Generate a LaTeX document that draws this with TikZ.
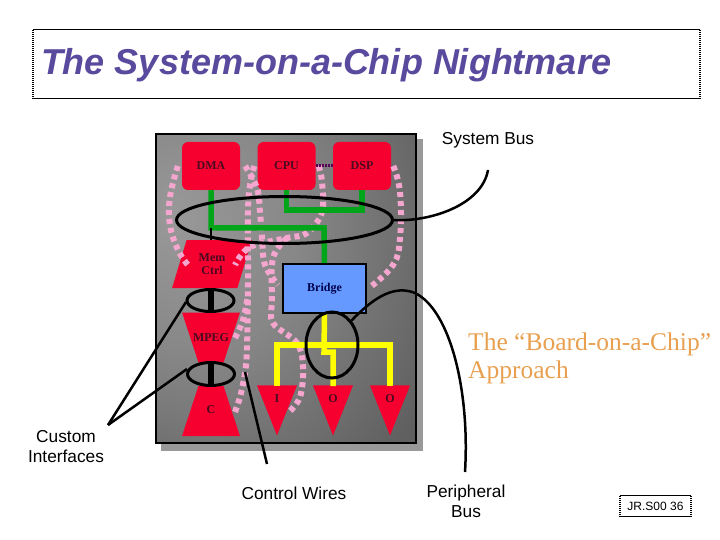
\documentclass[tikz,border=0pt]{standalone}
\usepackage{fontspec}
\setmainfont{Liberation Serif}
\setsansfont{Liberation Sans}
\usepackage{xcolor}
\usetikzlibrary{positioning, calc, shapes.geometric}
\definecolor{chipred}{HTML}{F5002F}
\definecolor{chipblue}{HTML}{6699FF}
\definecolor{chipgreen}{HTML}{00A51A}
\definecolor{chipyellow}{HTML}{FFFF00}
\definecolor{chippink}{HTML}{F4A6CE}
\definecolor{chipink}{HTML}{4A0A20}
\definecolor{titlepurple}{HTML}{5A4A9E}
\definecolor{noteorange}{HTML}{E8A050}
\newcommand{\funnelbody}{\phantom{\rule{25pt}{10pt}}}
\pgfdeclareradialshading{panelglow}{\pgfpoint{-22bp}{12bp}}{
  color(0bp)=(black!40); color(20bp)=(black!47); color(45bp)=(black!62);
  color(70bp)=(black!72); color(100bp)=(black!74)}

\begin{document}
\begin{tikzpicture}[
    x=1pt, y=-1pt,
    block/.style={
      rectangle, fill=chipred, rounded corners=6pt, minimum width=58, minimum height=48,
      inner sep=0pt, align=center, font=\fontsize{12}{13}\selectfont\bfseries, text=chipink
    },
    memblock/.style={
      trapezium, fill=chipred, trapezium left angle=70, trapezium right angle=110,
      trapezium stretches=true, minimum width=80, minimum height=48, inner sep=0pt,
      align=center, font=\fontsize{12}{13}\selectfont\bfseries, text=chipink
    },
    funnel/.style={
      trapezium, fill=chipred, trapezium left angle=31.4, trapezium right angle=31.4,
      trapezium stretches=true, minimum width=58, minimum height=50, inner sep=0pt
    },
    pin/.style={
      isosceles triangle, fill=chipred, shape border rotate=-90, isosceles triangle stretches,
      minimum width=40, minimum height=50, inner sep=0pt, anchor=apex
    },
    pinlabel/.style={font=\fontsize{12}{13}\selectfont\bfseries, text=chipink},
    greenbus/.style={draw=chipgreen, line width=5.5pt},
    yellowbus/.style={draw=chipyellow, line width=5.5pt},
    wire/.style={draw=chippink, line width=6pt, dash pattern=on 5pt off 4pt},
    ring/.style={ellipse, draw=black, line width=3pt, inner sep=0pt},
    leader/.style={draw=black, line width=2.5pt},
    note/.style={font=\sffamily\fontsize{17.3}{20}\selectfont, align=center},
]
  \useasboundingbox (0,0) rectangle (720,540);

  % title and page tag
  \node[minimum width=667, minimum height=68, inner sep=0pt] (titlebox) at (366.5,64) {};
  \node[right=8 of titlebox.west, yshift=-1.5, inner sep=0pt, text=titlepurple,
        font=\sffamily\bfseries\itshape\fontsize{36}{40}\selectfont] (title) {The System-on-a-Chip Nightmare};
  \draw[line width=1pt] (titlebox.north west) -- (titlebox.north east);
  \draw[line width=1pt] (titlebox.south west) -- (titlebox.south east);
  \draw[line width=2pt, dash pattern=on 1pt off 1pt] (titlebox.north west) -- (titlebox.south west);
  \draw[line width=2pt, dash pattern=on 1pt off 1pt] (titlebox.north east) -- (titlebox.south east);

  \node[minimum width=71, minimum height=20, inner sep=0pt,
        font=\sffamily\fontsize{12}{14}\selectfont] (tag) at (655.5,506) {JR.S00 36};
  \draw[line width=1pt] (tag.north west) -- (tag.north east);
  \draw[line width=1pt] (tag.south west) -- (tag.south east);
  \draw[line width=2pt, dash pattern=on 1pt off 1pt] (tag.north west) -- (tag.south west);
  \draw[line width=2pt, dash pattern=on 1pt off 1pt] (tag.north east) -- (tag.south east);

  % chip
  \fill[black!40] (161,139) rectangle (423,451);
  \node[rectangle, draw=black, line width=2.5pt, shading=panelglow, minimum width=260, minimum height=309,
        inner sep=0pt] (chip) at (286,288.5) {};

  \node[block] (dma) at (211,166) {DMA};
  \node[block] (cpu) at (286.5,166) {CPU};
  \node[block] (dsp) at (362,166) {DSP};
  \node[memblock] (mem) at (212,264) {Mem\\Ctrl};
  \node[rectangle, draw=black, line width=2pt, fill=chipblue, minimum width=83, minimum height=49,
        inner sep=0pt, font=\fontsize{12}{13}\selectfont\bfseries, text=blue!30!black] (bridge) at (324.5,288.5) {Bridge};
  \node[funnel, shape border rotate=180] (mpeg) at (211,337.5) {\funnelbody};
  \node[funnel] (ctrl) at (211,411) {\funnelbody};
  \node[pin] (pini) at (277,436) {\phantom{I}};
  \node[pin] (pino) at (333,436) {\phantom{I}};
  \node[pin] (pinp) at (390,436) {\phantom{I}};
  \node[pinlabel] (mpeglabel) at (211,337.5) {MPEG};
  \node[pinlabel] (ctrllabel) at (211,410) {C};
  \node[pinlabel] (pinilabel) at (277,399) {I};
  \node[pinlabel] (pinolabel) at (333,399) {O};
  \node[pinlabel] (pinplabel) at (390,399) {O};

  % control wires
  \draw[wire] plot[smooth, tension=0.7] coordinates {([xshift=-4]dma.west) (170,197) (170,225) (178,250) (188,265)};
  \draw[wire] plot[smooth, tension=0.6] coordinates {([xshift=-3]cpu.west) (250,185) (248,212) (248,283) (247,347) (245,373) (240,397) (235,412)};
  \draw[wire] plot[smooth, tension=0.6] coordinates {([xshift=5]dma.east) (257,188) (260,212) (262,238) (265,265) (278,285)};
  \draw[wire] plot[smooth, tension=0.6] coordinates {([xshift=3]cpu.east) (322,182) (322,212) (307,233) (287,238) (250,247) (235,265)};
  \draw[wire] plot[smooth, tension=0.6] coordinates {(287,238) (273,258) (272,300) (273,323) (297,343) (303,367) (300,397) (288,413)};
  \draw[wire] plot[smooth, tension=0.7] coordinates {([xshift=2]dsp.east) (400,192) (400,238) (393,265) (369,288)};
  \draw[wire] plot[smooth, tension=0.6] coordinates {(235,338) (243,320) (248,295)};
  \draw[draw=violet!70!black, line width=3pt, dash pattern=on 2pt off 1pt] (cpu.east) -- (dsp.west);

  % system and peripheral bus
  \draw[greenbus] (dma.south) -- (211,228) -- (324,228) -- (bridge.north);
  \draw[greenbus] (cpu.south) -- (286.5,210) -- (362,210) -- (dsp.south);
  \draw[yellowbus] (bridge.south) -- (324,352) -- (333,352) -- (333,386);
  \draw[yellowbus] (277,386) -- (277,345) -- (390,345) -- (390,386);
  \draw[draw=black, line width=2pt] (211,228) -- (211,240);

  % rings
  \node[ring, minimum width=216, minimum height=47] (busring) at (284.5,220) {};
  \node[ring, minimum width=47, minimum height=22] (ifring) at (210.5,300.5) {};
  \node[ring, minimum width=47, minimum height=23] (cring) at (211,374) {};
  \node[ring, minimum width=52, minimum height=66] (pbring) at (332,345) {};
  \draw[draw=black, line width=6pt] (ifring.north) -- (ifring.south);
  \draw[draw=black, line width=6pt] (cring.north) -- (cring.south);

  % labels and leaders
  \node[note] (sysbus) at (488,140.5) {System Bus};
  \node[note] (custom) at (66,447) {Custom\\Interfaces};
  \node[note] (ctrlwires) at (294,493) {Control Wires};
  \node[note] (perbus) at (466,501) {Peripheral\\Bus};
  \node[font=\fontsize{25.5}{28}\selectfont, text=noteorange, align=left, anchor=west, inner sep=0pt] (approach) at (468,358.5) {The “Board-on-a-Chip”\\Approach};

  \coordinate (sysend) at (488,170);
  \coordinate (custend) at (108,425);
  \coordinate (wireend) at (267,464);
  \coordinate (perend) at (465,472);
  \draw[leader] (busring.east) .. controls (430,222) and (482,205) .. (sysend);
  \draw[leader] (custend) -- (186,302);
  \draw[leader] (custend) -- (187,369);
  \draw[leader] (wireend) -- (245,372);
  \draw[leader] (pbring.north east) .. controls (375,296) and (395,285) .. (415,293) .. controls (450,310) and (470,390) .. (perend);
\end{tikzpicture}
\end{document}
